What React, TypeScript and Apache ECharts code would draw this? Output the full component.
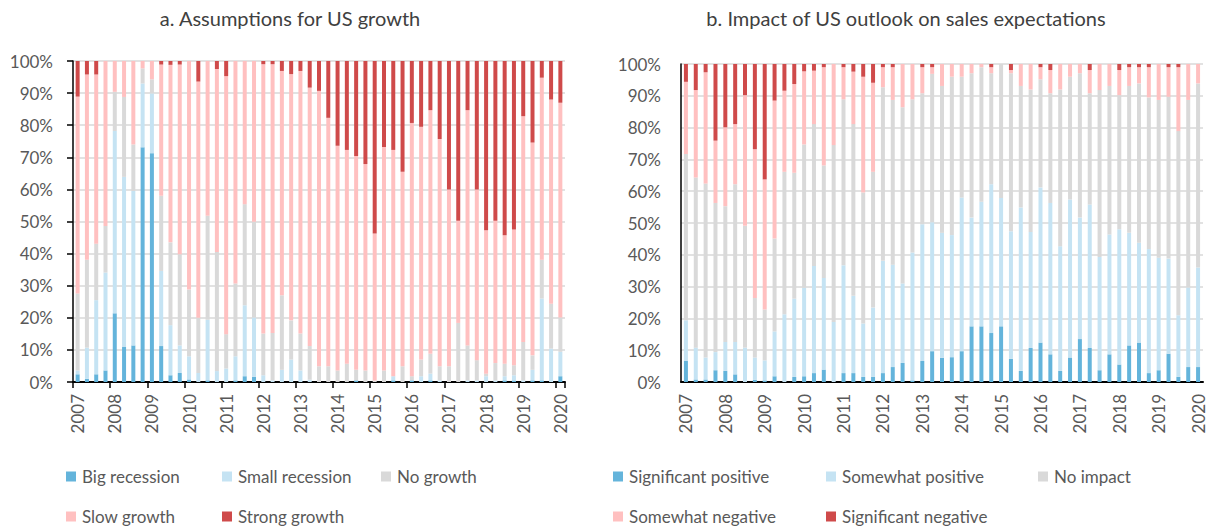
import React, { useEffect, useRef } from "react";
import * as echarts from "echarts";

const years = [2007, 2008, 2009, 2010, 2011, 2012, 2013, 2014, 2015, 2016, 2017, 2018, 2019, 2020];
const quarters = ["Q1", "Q2", "Q3", "Q4"];
const categories = years.flatMap((y) => quarters.map((q) => `${y} ${q}`)).slice(0, 53);

const titleA = "a. Assumptions for US growth";
const titleB = "b. Impact of US outlook on sales expectations";

// Panel a: Assumptions for US growth (% of respondents)
const bigRecession = [2.4, 1.0, 2.4, 3.6, 21.4, 10.9, 11.4, 73.1, 71.3, 11.2, 2.1, 2.8, 0.8, 0, 0.5, 0, 0, 0.5, 1.8, 1.6, 0, 0, 0, 0, 0, 0, 0, 0, 0, 0, 0.5, 0, 0, 0, 0.5, 0, 0.5, 0, 0.5, 0, 0, 0, 0, 0, 0, 0, 0.5, 0.5, 0, 0.5, 0.5, 0, 1.8];
const smallRecession = [1.2, 9.7, 23.1, 30.5, 56.8, 53.0, 48.1, 19.9, 18.6, 23.4, 15.6, 8.6, 7.2, 2.8, 18.9, 3.4, 4.2, 7.5, 22.1, 18.5, 2.1, 0.5, 3.8, 7.0, 3.6, 0.7, 0, 0, 0, 0, 0, 0, 0, 0, 1.3, 0, 0, 1.8, 2.1, 0.5, 0, 0, 0.5, 0.5, 1.8, 0.5, 1.3, 1.6, 0.5, 3.3, 25.5, 10.4, 7.6];
const noGrowth = [24.0, 27.4, 17.6, 14.5, 12.2, 24.9, 14.5, 4.7, 4.4, 23.4, 25.8, 28.4, 20.8, 17.2, 32.4, 37.1, 10.7, 22.7, 31.5, 29.8, 13.0, 14.8, 23.2, 12.2, 11.5, 10.5, 4.9, 4.9, 3.6, 5.7, 3.3, 3.6, 0.5, 3.6, 0, 4.9, 1.3, 5.2, 6.2, 4.4, 4.9, 18.4, 10.9, 6.3, 0.8, 5.4, 3.9, 3.1, 12.0, 4.5, 12.1, 14.0, 10.7];
const slowGrowth = [61.3, 57.7, 52.7, 51.4, 9.6, 11.2, 26.0, 2.3, 5.7, 40.9, 55.3, 59.1, 71.2, 73.6, 48.2, 57.0, 80.4, 69.3, 44.6, 50.1, 83.9, 83.7, 69.9, 76.7, 81.8, 80.5, 85.8, 77.4, 70.0, 66.6, 66.6, 64.3, 45.8, 69.6, 70.5, 60.6, 78.9, 72.5, 75.9, 70.8, 55.1, 31.8, 73.3, 53.2, 44.7, 44.3, 40.0, 42.3, 70.3, 66.3, 56.7, 63.6, 66.9];
const strongGrowth = [11.1, 4.2, 4.2, 0, 0, 0, 0, 0, 0, 1.1, 1.2, 1.1, 0, 6.4, 0, 2.5, 4.7, 0, 0, 0, 1.0, 1.0, 3.1, 4.1, 3.1, 8.3, 9.3, 17.7, 26.4, 27.7, 29.6, 32.1, 53.7, 26.8, 27.7, 34.5, 19.3, 20.5, 15.3, 24.3, 40.0, 49.8, 15.3, 40.0, 52.7, 49.8, 54.3, 52.5, 17.2, 25.4, 5.2, 12.0, 13.0];

// Panel b: Impact of US outlook on sales expectations (% of respondents)
const significantPositive = [6.6, 0.8, 0.8, 3.7, 3.5, 2.4, 0, 0.7, 0.5, 1.8, 0, 1.6, 1.8, 2.8, 3.9, 0, 2.8, 2.8, 1.6, 1.6, 2.8, 4.7, 6.0, 0.5, 6.6, 9.7, 7.6, 7.8, 9.7, 17.5, 17.5, 15.4, 17.5, 7.3, 3.5, 10.7, 12.4, 8.7, 3.5, 7.7, 13.5, 10.7, 3.7, 8.7, 5.5, 11.5, 12.4, 2.8, 3.7, 8.9, 1.6, 4.7, 4.7];
const somewhatPositive = [12.8, 10.0, 6.9, 5.7, 9.1, 10.2, 10.8, 7.0, 6.3, 14.1, 21.3, 24.6, 27.8, 33.7, 28.8, 18.9, 33.9, 24.3, 16.8, 21.8, 35.3, 32.2, 25.0, 40.2, 43.0, 40.5, 39.3, 38.4, 48.3, 34.2, 39.2, 46.8, 40.4, 40.1, 51.4, 36.5, 48.8, 47.6, 39.2, 49.7, 38.2, 45.1, 35.6, 37.7, 42.5, 35.4, 31.4, 39.0, 35.4, 29.9, 19.4, 25.0, 31.3];
const noImpact = [52.3, 53.5, 54.7, 46.9, 42.7, 49.6, 38.3, 18.7, 16.0, 29.2, 44.8, 39.6, 45.1, 44.6, 35.4, 55.6, 52.2, 54.0, 41.2, 42.7, 54.6, 51.8, 55.4, 48.2, 41.2, 46.7, 46.2, 49.8, 38.0, 45.4, 42.3, 34.9, 42.1, 49.7, 38.2, 44.8, 34.0, 34.5, 49.3, 38.6, 45.4, 35.0, 52.5, 46.7, 42.2, 46.2, 50.1, 47.7, 49.6, 50.9, 57.9, 59.0, 57.9];
const somewhatNegative = [22.7, 27.5, 35.0, 19.6, 24.8, 18.9, 41.1, 46.8, 40.9, 43.4, 25.5, 27.9, 23.0, 16.8, 30.9, 25.5, 10.1, 16.5, 36.4, 28.0, 6.3, 10.3, 13.6, 11.1, 8.2, 2.1, 6.9, 4.0, 4.0, 2.9, 1.0, 1.9, 0, 1.0, 6.9, 8.0, 3.8, 7.3, 8.0, 4.0, 2.9, 7.3, 8.2, 6.9, 7.9, 5.9, 5.1, 9.5, 11.3, 9.3, 20.1, 11.3, 6.1];
const significantNegative = [5.6, 8.2, 2.6, 24.1, 19.9, 18.9, 9.8, 26.8, 36.3, 11.5, 8.4, 6.3, 2.3, 2.1, 1.0, 0, 1.0, 2.4, 4.0, 5.9, 1.0, 1.0, 0, 0, 1.0, 1.0, 0, 0, 0, 0, 0, 1.0, 0, 1.9, 0, 0, 1.0, 1.9, 0, 0, 0, 1.9, 0, 0, 1.9, 1.0, 1.0, 1.0, 0, 1.0, 1.0, 0, 0];

const seriesA = [
  { name: "Big recession", data: bigRecession, color: "#64B4DB" },
  { name: "Small recession", data: smallRecession, color: "#C5E3F3" },
  { name: "No growth", data: noGrowth, color: "#D9D9D9" },
  { name: "Slow growth", data: slowGrowth, color: "#FFC0C0" },
  { name: "Strong growth", data: strongGrowth, color: "#CF4A4A" },
];
const seriesB = [
  { name: "Significant positive", data: significantPositive, color: "#64B4DB" },
  { name: "Somewhat positive", data: somewhatPositive, color: "#C5E3F3" },
  { name: "No impact", data: noImpact, color: "#D9D9D9" },
  { name: "Somewhat negative", data: somewhatNegative, color: "#FFC0C0" },
  { name: "Significant negative", data: significantNegative, color: "#CF4A4A" },
];

const FONT = "Lato";
const TXT = "#595959";

export default function App() {
  const ref = useRef<HTMLDivElement>(null);
  useEffect(() => {
    if (!ref.current) return;
    const chart = echarts.init(ref.current, null, { renderer: "svg" });

    const xAxis = [0, 1].map((i) => ({
      type: "category",
      gridIndex: i,
      data: categories,
      axisLine: { show: true, lineStyle: { color: "#000", width: 2 } },
      axisTick: i === 0
        ? { show: true, interval: 3, length: 6, lineStyle: { color: "#000", width: 1.5 } }
        : { show: false },
      axisLabel: {
        interval: 3,
        rotate: 90,
        margin: 12,
        formatter: (v: string) => v.slice(0, 4),
        fontSize: 17,
        color: TXT,
        fontFamily: FONT,
      },
      splitLine: { show: false },
    }));

    const yAxis = [0, 1].map((i) => ({
      type: "value",
      gridIndex: i,
      min: 0,
      max: 100,
      interval: 10,
      axisLine: { show: true, lineStyle: { color: "#000", width: 1.5 } },
      axisTick: i === 0
        ? { show: true, length: 6, lineStyle: { color: "#000", width: 1.5 } }
        : { show: false },
      axisLabel: { formatter: "{value}%", fontSize: 17, color: TXT, fontFamily: FONT, margin: 20 },
      splitLine: { show: true, lineStyle: { color: "#D9D9D9", width: 1.5 } },
    }));

    const mkSeries = (list: any[], idx: number) =>
      list.map((s) => ({
        name: s.name,
        type: "bar",
        stack: "s" + idx,
        xAxisIndex: idx,
        yAxisIndex: idx,
        barWidth: 4,
        data: s.data,
        itemStyle: { color: s.color },
        emphasis: { disabled: true },
      }));

    const legendPos = (names: string[], xs: number[]) =>
      names.map((n, k) => ({
        data: [n],
        left: xs[k % 3],
        top: k < 3 ? 468 : 508,
        padding: 0,
        itemWidth: 10,
        itemHeight: 10,
        selectedMode: false,
        icon: "rect",
        textStyle: { fontSize: 17, color: TXT, fontFamily: FONT, padding: [0, 0, 0, 1] },
      }));

    chart.setOption({
      animation: false,
      textStyle: { fontFamily: FONT },
      title: [
        { text: titleA, left: 290, top: 8, textAlign: "center", padding: 0,
          textStyle: { fontSize: 20, fontWeight: "normal", color: "#404040", fontFamily: FONT } },
        { text: titleB, left: 906, top: 8, textAlign: "center", padding: 0,
          textStyle: { fontSize: 20, fontWeight: "normal", color: "#404040", fontFamily: FONT } },
      ],
      grid: [
        { left: 73, top: 61, width: 492, height: 321 },
        { left: 681, top: 64, width: 522, height: 318 },
      ],
      xAxis,
      yAxis,
      legend: [
        ...legendPos(seriesA.map((s) => s.name), [66, 222, 381]),
        ...legendPos(seriesB.map((s) => s.name), [613, 826, 1038]),
      ],
      series: [...mkSeries(seriesA, 0), ...mkSeries(seriesB, 1)],
    });
    return () => chart.dispose();
  }, []);

  return (
    <div
      ref={ref}
      style={{ position: "fixed", left: 0, top: 0, width: 1211, height: 532, background: "#fff" }}
    />
  );
}
